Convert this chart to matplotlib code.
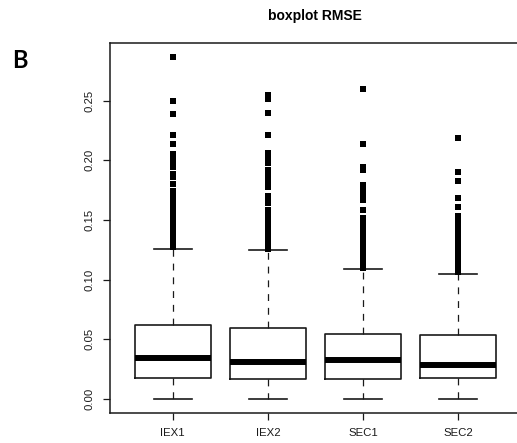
import matplotlib
matplotlib.use("Agg")
import matplotlib.pyplot as plt

# Summary statistics of RMSE per condition
groups = ["IEX1", "IEX2", "SEC1", "SEC2"]
q1 = [0.0180, 0.0166, 0.0169, 0.0176]
medians = [0.0342, 0.0314, 0.0323, 0.0289]
q3 = [0.0617, 0.0597, 0.0544, 0.0535]
whisker_low = [0.0, 0.0, 0.0, 0.0]
whisker_high = [0.1260, 0.1250, 0.1090, 0.1050]

# Outlying RMSE values above the upper whisker
outliers_iex1 = [0.127, 0.129, 0.131, 0.133, 0.135, 0.137, 0.139, 0.141,
                 0.143, 0.145, 0.147, 0.149, 0.151, 0.153, 0.155, 0.157,
                 0.159, 0.161, 0.163, 0.165, 0.167, 0.169, 0.171, 0.173,
                 0.1745, 0.1803, 0.1858, 0.1888, 0.1946, 0.197, 0.199,
                 0.201, 0.203, 0.205, 0.2138, 0.2210, 0.2384, 0.2500,
                 0.2866]
outliers_iex2 = [0.1255, 0.1275, 0.1295, 0.1315, 0.1335, 0.1355, 0.1375,
                 0.1395, 0.1415, 0.1435, 0.1455, 0.1475, 0.1495, 0.1515,
                 0.1535, 0.1555, 0.1583, 0.1641, 0.1661, 0.1681, 0.1701,
                 0.1779, 0.1799, 0.1819, 0.1839, 0.1859, 0.1879, 0.1899,
                 0.1921, 0.1979, 0.1999, 0.2019, 0.2039, 0.2065, 0.2210,
                 0.2395, 0.2513, 0.2545]
outliers_sec1 = [0.1095, 0.1115, 0.1135, 0.1155, 0.1175, 0.1195, 0.1215,
                 0.1235, 0.1255, 0.1275, 0.1295, 0.1315, 0.1335, 0.1355,
                 0.1375, 0.1395, 0.1415, 0.1435, 0.1455, 0.1475, 0.1495,
                 0.1516, 0.1583, 0.1670, 0.1690, 0.1710, 0.1730, 0.1750,
                 0.1770, 0.1795, 0.1922, 0.1945, 0.2140, 0.2600]
outliers_sec2 = [0.1065, 0.1085, 0.1105, 0.1125, 0.1145, 0.1165, 0.1185,
                 0.1205, 0.1225, 0.1245, 0.1265, 0.1285, 0.1305, 0.1325,
                 0.1345, 0.1365, 0.1385, 0.1405, 0.1425, 0.1445, 0.1465,
                 0.1485, 0.1505, 0.1530, 0.1610, 0.1683, 0.1823, 0.1905,
                 0.2188]
outliers = [outliers_iex1, outliers_iex2, outliers_sec1, outliers_sec2]

yticks = [0.00, 0.05, 0.10, 0.15, 0.20, 0.25]
title = "boxplot RMSE"
panel_label = "B"

ink = "#1a1a1a"
stats = []
for name, lo, a, m, b, hi, fl in zip(groups, whisker_low, q1, medians, q3,
                                     whisker_high, outliers):
    stats.append(dict(label=name, whislo=lo, q1=a, med=m, q3=b,
                      whishi=hi, fliers=fl))

fig = plt.figure(figsize=(5.17, 4.43), dpi=100)
ax = fig.add_axes([0.2128, 0.0684, 0.795, 0.834])

rect = [(-0.4, -0.5), (0.4, -0.5), (0.4, 0.5), (-0.4, 0.5), (-0.4, -0.5)]
ax.bxp(stats, positions=[1, 2, 3, 4], widths=0.8, capwidths=0.4,
       boxprops=dict(color=ink, linewidth=1.2),
       medianprops=dict(color="black", linewidth=4.3, solid_capstyle="butt"),
       whiskerprops=dict(color=ink, linewidth=0.9,
                         linestyle=(0, (5.5, 5.5))),
       capprops=dict(color=ink, linewidth=1.2),
       flierprops=dict(marker=rect, markersize=5.0, markerfacecolor="black",
                       markeredgewidth=0, linestyle="none"))

# axis limits padded by 4% of the data range on each side
ymax = max(max(o) for o in outliers)
ymin = min(whisker_low)
pad = 0.04 * (ymax - ymin)
ax.set_ylim(ymin - pad, ymax + pad)
ax.set_xlim(0.5 - 0.04 * len(groups), len(groups) + 0.5 + 0.04 * len(groups))

ax.set_yticks(yticks)
ax.set_yticklabels([f"{v:.2f}" for v in yticks], rotation=90, va="center")
ax.set_xticks([1, 2, 3, 4])
ax.set_xticklabels(groups)
ax.tick_params(axis="both", length=5, width=0.9, color=ink,
               labelsize=8.2, labelcolor=ink)
ax.tick_params(axis="y", pad=6)
ax.tick_params(axis="x", pad=6)
for lab in ax.get_xticklabels() + ax.get_yticklabels():
    lab.set_fontfamily("Liberation Sans")
for sp in ax.spines.values():
    sp.set_color(ink)
    sp.set_linewidth(1.1)

fig.text(0.609, 1 - 15.7 / 443, title, ha="center", va="center",
         fontsize=10, fontweight="bold", family="Liberation Sans")
fig.text(20 / 517, 1 - 61 / 443, panel_label, ha="center", va="center",
         fontsize=17, fontweight="bold", family="Lato")

fig.savefig("out.png", dpi=100)
